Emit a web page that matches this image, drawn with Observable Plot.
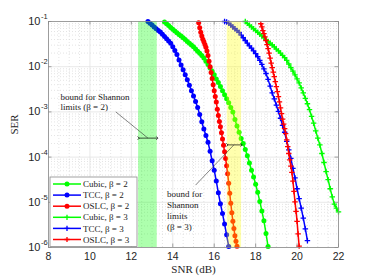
<!DOCTYPE html>
<html><head><meta charset="utf-8">
<script src="https://cdn.jsdelivr.net/npm/d3@7"></script>
<script src="https://cdn.jsdelivr.net/npm/@observablehq/plot@0.6"></script>
<style>body{margin:0;background:#fff}#chart{position:relative;width:374px;height:280px}</style>
</head><body><div id="chart"></div>
<script>
// ---- data: [SNR (dB), log10(SER)] ----
const cubic2 = [[13.6,-1.01],[13.7,-1.05],[13.8,-1.09],[13.9,-1.13],[14.0,-1.17],[14.1,-1.21],[14.2,-1.25],[14.3,-1.29],[14.4,-1.32],[14.5,-1.36],[14.6,-1.40],[14.7,-1.44],[14.8,-1.48],[14.9,-1.52],[15.0,-1.56],[15.1,-1.61],[15.2,-1.66],[15.3,-1.70],[15.4,-1.75],[15.5,-1.81],[15.6,-1.88],[15.7,-1.95],[15.8,-2.03],[15.9,-2.10],[16.0,-2.18],[16.1,-2.27],[16.2,-2.35],[16.3,-2.44],[16.4,-2.53],[16.5,-2.62],[16.6,-2.71],[16.7,-2.80],[16.8,-2.90],[16.9,-3.00],[17.0,-3.17],[17.1,-3.31],[17.2,-3.45],[17.3,-3.59],[17.4,-3.70],[17.5,-3.83],[17.6,-3.97],[17.7,-4.13],[17.8,-4.29],[17.9,-4.44],[18.0,-4.60],[18.1,-4.78],[18.2,-4.98],[18.3,-5.19],[18.4,-5.41],[18.5,-5.69],[18.6,-5.98]];
const tcc2 = [[12.8,-1.00],[12.9,-1.04],[13.0,-1.08],[13.1,-1.12],[13.2,-1.16],[13.3,-1.20],[13.4,-1.23],[13.5,-1.28],[13.6,-1.33],[13.7,-1.38],[13.8,-1.43],[13.9,-1.48],[14.0,-1.56],[14.1,-1.64],[14.2,-1.73],[14.3,-1.85],[14.4,-1.96],[14.5,-2.07],[14.6,-2.18],[14.7,-2.29],[14.8,-2.41],[14.9,-2.53],[15.0,-2.65],[15.1,-2.77],[15.2,-2.90],[15.3,-3.06],[15.4,-3.22],[15.5,-3.38],[15.6,-3.52],[15.7,-3.67],[15.8,-3.87],[15.9,-4.08],[16.0,-4.29],[16.1,-4.53],[16.2,-4.79],[16.3,-5.03],[16.4,-5.25],[16.5,-5.48],[16.6,-5.72],[16.7,-5.98]];
const oslc2 = [[15.25,-1.03],[15.30,-1.14],[15.35,-1.24],[15.40,-1.32],[15.45,-1.39],[15.50,-1.45],[15.55,-1.51],[15.60,-1.57],[15.65,-1.65],[15.70,-1.75],[15.75,-1.88],[15.80,-2.00],[15.85,-2.13],[15.90,-2.26],[15.95,-2.40],[16.00,-2.53],[16.05,-2.66],[16.10,-2.78],[16.15,-2.94],[16.20,-3.08],[16.25,-3.21],[16.30,-3.33],[16.35,-3.46],[16.40,-3.60],[16.45,-3.74],[16.50,-3.88],[16.55,-4.03],[16.60,-4.19],[16.65,-4.37],[16.70,-4.58],[16.75,-4.80],[16.80,-5.02],[16.85,-5.23],[16.90,-5.42],[16.95,-5.58],[17.00,-5.74],[17.05,-5.86],[17.10,-5.97]];
const cubic3 = [[17.5,-1.00],[17.6,-1.04],[17.7,-1.08],[17.8,-1.12],[17.9,-1.16],[18.0,-1.20],[18.1,-1.24],[18.2,-1.28],[18.3,-1.32],[18.4,-1.36],[18.5,-1.40],[18.6,-1.44],[18.7,-1.48],[18.8,-1.52],[18.9,-1.56],[19.0,-1.61],[19.1,-1.65],[19.2,-1.70],[19.3,-1.75],[19.4,-1.80],[19.5,-1.86],[19.6,-1.94],[19.7,-2.02],[19.8,-2.10],[19.9,-2.18],[20.0,-2.27],[20.1,-2.36],[20.2,-2.47],[20.3,-2.58],[20.4,-2.70],[20.5,-2.82],[20.6,-2.95],[20.7,-3.10],[20.8,-3.25],[20.9,-3.42],[21.0,-3.58],[21.1,-3.73],[21.2,-3.92],[21.3,-4.12],[21.4,-4.32],[21.5,-4.50],[21.6,-4.70],[21.7,-4.88],[21.8,-5.04],[21.9,-5.13],[22.0,-5.21]];
const tcc3 = [[16.5,-1.00],[16.6,-1.01],[16.7,-1.04],[16.8,-1.08],[16.9,-1.12],[17.0,-1.16],[17.1,-1.20],[17.2,-1.24],[17.3,-1.30],[17.4,-1.36],[17.5,-1.42],[17.6,-1.48],[17.7,-1.54],[17.8,-1.59],[17.9,-1.65],[18.0,-1.71],[18.1,-1.78],[18.2,-1.86],[18.3,-1.95],[18.4,-2.05],[18.5,-2.15],[18.6,-2.28],[18.7,-2.43],[18.8,-2.58],[18.9,-2.71],[19.0,-2.85],[19.1,-2.99],[19.2,-3.14],[19.3,-3.30],[19.4,-3.45],[19.5,-3.65],[19.6,-3.84],[19.7,-4.03],[19.8,-4.25],[19.9,-4.46],[20.0,-4.70],[20.1,-4.92],[20.2,-5.13],[20.3,-5.35],[20.4,-5.59],[20.5,-5.85]];
const oslc3 = [[18.25,-1.05],[18.30,-1.12],[18.35,-1.20],[18.40,-1.27],[18.45,-1.34],[18.50,-1.42],[18.55,-1.51],[18.60,-1.60],[18.65,-1.70],[18.70,-1.81],[18.75,-1.92],[18.80,-2.02],[18.85,-2.12],[18.90,-2.22],[18.95,-2.33],[19.00,-2.44],[19.05,-2.55],[19.10,-2.66],[19.15,-2.78],[19.20,-2.91],[19.25,-3.04],[19.30,-3.16],[19.35,-3.27],[19.40,-3.37],[19.45,-3.48],[19.50,-3.62],[19.55,-3.77],[19.60,-3.92],[19.65,-4.06],[19.70,-4.20],[19.75,-4.34],[19.80,-4.53],[19.85,-4.76],[19.90,-4.99],[19.95,-5.20],[20.00,-5.42],[20.05,-5.70],[20.10,-5.97]];

const seriesNames = ["Cubic, β = 2","TCC, β = 2","OSLC, β = 2","Cubic, β = 3","TCC, β = 3","OSLC, β = 3"];
const seriesData = [cubic2, tcc2, oslc2, cubic3, tcc3, oslc3];
const seriesColors = ["#00ff00","#0000ff","#ff0000","#00ff00","#0000ff","#ff0000"];
const seriesSymbols = ["circle","circle","circle","plus","plus","plus"];

// Shannon-limit bound bands
const boundBeta = [2, 3];
const boundLo = [12.35, 16.63];
const boundHi = [13.25, 17.32];
const boundColor = ["#00ff00", "#ffff00"];

const xTicks = [8, 10, 12, 14, 16, 18, 20, 22];
const xMinor = [8.5,9,9.5,10.5,11,11.5,12.5,13,13.5,14.5,15,15.5,16.5,17,17.5,18.5,19,19.5,20.5,21,21.5];
const yExponents = [-1, -2, -3, -4, -5, -6];
const yTicks = yExponents.map(e => 10 ** e);
const yMinor = [];
for (const e of [-6,-5,-4,-3,-2]) for (const m of [2,3,4,5,6,7,8,9]) yMinor.push(m * 10 ** e);

// ---- tables ----
const bands = boundBeta.map((b, i) => ({beta: b, lo: boundLo[i], hi: boundHi[i], color: boundColor[i]}));
const series = seriesNames.map((name, i) => ({
  name, color: seriesColors[i], symbol: seriesSymbols[i],
  pts: seriesData[i].map(([snr, l]) => ({snr, ser: 10 ** l}))
}));

const serif = "'Liberation Serif', 'DejaVu Serif', serif";
const H = 280 - 21 - 33;

const marks = [
  Plot.ruleX(xMinor, {stroke: "#d8d8d8", strokeDasharray: "1,2", strokeWidth: 0.7}),
  Plot.ruleY(yMinor, {stroke: "#d8d8d8", strokeDasharray: "1,2", strokeWidth: 0.7}),
  Plot.ruleX(xTicks, {stroke: "#e2e2e2", strokeWidth: 0.8}),
  Plot.ruleY(yTicks, {stroke: "#e2e2e2", strokeWidth: 0.8}),
];
for (const s of series) {
  marks.push(Plot.line(s.pts, {x: "snr", y: "ser", stroke: s.color, strokeWidth: 1.5}));
  if (s.symbol === "circle") marks.push(Plot.dot(s.pts, {x: "snr", y: "ser", fill: s.color, r: 2.5}));
  else marks.push(Plot.dot(s.pts, {x: "snr", y: "ser", stroke: s.color, symbol: "plus", r: 1.9, strokeWidth: 1.3}));
}
marks.push(
  Plot.rect(bands, {x1: "lo", x2: "hi", fill: "color", fillOpacity: 0.32}),
  // frame & inward ticks
  Plot.frame({stroke: "#8a8a8a", strokeWidth: 0.8}),
  Plot.tickX(xTicks, {x: d => d, insetTop: H - 3.5, stroke: "#8a8a8a", strokeWidth: 0.8}),
  Plot.tickX(xTicks, {x: d => d, insetBottom: H - 3.5, stroke: "#8a8a8a", strokeWidth: 0.8}),
  Plot.tickY(yTicks, {y: d => d, insetRight: 290 - 3.5, stroke: "#8a8a8a", strokeWidth: 0.8}),
  Plot.tickY(yTicks, {y: d => d, insetLeft: 290 - 3.5, stroke: "#8a8a8a", strokeWidth: 0.8}),
  // tick labels
  Plot.text(xTicks, {x: d => d, frameAnchor: "bottom", dy: 12, text: d => String(d), fontSize: 10.5, fill: "#262626"}),
  Plot.text(yExponents, {y: d => 10 ** d, frameAnchor: "left", dx: -8, textAnchor: "end", text: () => "10", fontSize: 11, fill: "#262626"}),
  Plot.text(yExponents, {y: d => 10 ** d, frameAnchor: "left", dx: -7.5, dy: -5, textAnchor: "start", text: d => String(d), fontSize: 7.5, fill: "#262626"}),
  // axis labels
  Plot.text(["SNR (dB)"], {frameAnchor: "bottom", dy: 25, text: d => d, fontFamily: serif, fontSize: 11, fill: "#262626"}),
  Plot.text(["SER"], {frameAnchor: "left", dx: -34, rotate: -90, text: d => d, fontFamily: serif, fontSize: 11, fill: "#262626"}),
  // annotations
  Plot.link([bands[0]], {x1: "lo", x2: "hi", y1: () => 10 ** -3.58, y2: () => 10 ** -3.58, stroke: "black", strokeWidth: 0.7, markerStart: "arrow", markerEnd: "arrow"}),
  Plot.link([bands[1]], {x1: "lo", x2: "hi", y1: () => 10 ** -3.73, y2: () => 10 ** -3.73, stroke: "black", strokeWidth: 0.7, markerStart: "arrow", markerEnd: "arrow"}),
  Plot.link([0], {x1: () => 11.25, y1: () => 10 ** -3.0, x2: () => 12.8, y2: () => 10 ** -3.58, stroke: "#333", strokeWidth: 0.6}),
  Plot.link([0], {x1: () => 15.1, y1: () => 10 ** -4.62, x2: () => 16.95, y2: () => 10 ** -3.73, stroke: "#333", strokeWidth: 0.6}),
  Plot.text(["bound for Shannon\nlimits (β = 2)"], {x: () => 8.58, y: () => 10 ** -2.77, text: d => d, textAnchor: "start", fontFamily: serif, fontSize: 9, lineHeight: 1.1, fill: "#222"}),
  Plot.text(["bound for\nShannon\nlimits\n(β = 3)"], {x: () => 13.72, y: () => 10 ** -5.17, text: d => d, textAnchor: "start", fontFamily: serif, fontSize: 9, lineHeight: 1.2, fill: "#222"})
);

const chart = Plot.plot({
  width: 374, height: 280,
  marginLeft: 48, marginRight: 36, marginTop: 21, marginBottom: 33,
  x: {domain: [8, 22], axis: null},
  y: {type: "log", domain: [1e-6, 1e-1], axis: null},
  style: {fontFamily: "'Liberation Sans', Arial, sans-serif", background: "#fff"},
  marks
});
document.getElementById("chart").appendChild(chart);

// legend (inside the axes, lower-left)
const svg = d3.select(chart);
const lg = svg.append("g").attr("font-family", serif).attr("font-size", 9).attr("text-anchor", "start");
lg.append("rect").attr("x", 50).attr("y", 177).attr("width", 87).attr("height", 69.5)
  .attr("fill", "white").attr("stroke", "#8a8a8a").attr("stroke-width", 0.8);
series.forEach((s, i) => {
  const y = 184 + i * 11.1;
  lg.append("line").attr("x1", 53).attr("x2", 81).attr("y1", y).attr("y2", y).attr("stroke", s.color).attr("stroke-width", 1.5);
  if (s.symbol === "circle") lg.append("circle").attr("cx", 67).attr("cy", y).attr("r", 2.5).attr("fill", s.color);
  else lg.append("path").attr("d", `M64.4,${y}h5.2M67,${y - 2.6}v5.2`).attr("stroke", s.color).attr("stroke-width", 1.3);
  lg.append("text").attr("x", 83).attr("y", y).attr("dy", "0.35em").attr("text-anchor", "start").attr("fill", "#222").text(s.name);
});
</script></body></html>
